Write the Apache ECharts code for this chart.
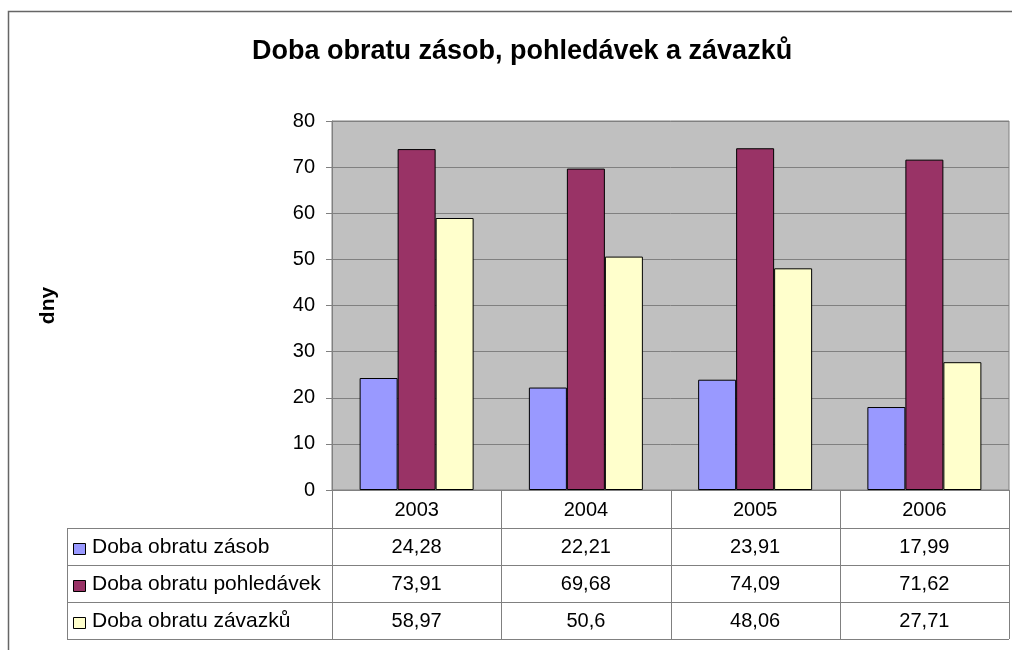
<!DOCTYPE html>
<html>
<head>
<meta charset="utf-8">
<script src="https://cdn.jsdelivr.net/npm/echarts@6/dist/echarts.min.js"></script>
<style>
  html, body { margin: 0; padding: 0; background: #fff; }
  #chart { width: 1012px; height: 650px; }
</style>
</head>
<body>
<div id="chart"></div>
<script>
var years = ['2003', '2004', '2005', '2006'];
var zasoby = [24.28, 22.21, 23.91, 17.99];
var pohledavky = [73.91, 69.68, 74.09, 71.62];
var zavazky = [58.97, 50.6, 48.06, 27.71];
var seriesNames = ['Doba obratu zásob', 'Doba obratu pohledávek', 'Doba obratu závazků'];
var seriesData = [zasoby, pohledavky, zavazky];
var colors = ['#9999FF', '#993366', '#FFFFCC'];
var yTicks = [0, 10, 20, 30, 40, 50, 60, 70, 80];

var FONT = '"Liberation Sans", Arial, sans-serif';
var lineCol = '#808080';

var chart = echarts.init(document.getElementById('chart'), null, { renderer: 'canvas' });

var series = seriesNames.map(function (name, i) {
  return {
    name: name,
    type: 'bar',
    data: seriesData[i],
    barWidth: 38,
    barGap: '0%',
    itemStyle: { color: colors[i], borderColor: '#000', borderWidth: 1 },
    animation: false
  };
});

var option = {
  animation: false,
  backgroundColor: '#fff',
  title: {
    text: 'Doba obratu zásob, pohledávek a závazků',
    left: 247,
    top: 33,
    textStyle: { fontFamily: FONT, fontSize: 27, fontWeight: 'bold', color: '#000' }
  },
  grid: {
    left: 332, right: 3, top: 121, bottom: 160,
    show: true, backgroundColor: '#C0C0C0', borderColor: lineCol, borderWidth: 1
  },
  xAxis: {
    type: 'category',
    data: years,
    axisLine: { lineStyle: { color: lineCol } },
    axisTick: { length: 38, lineStyle: { color: lineCol } },
    axisLabel: { margin: 10, color: '#000', fontFamily: FONT, fontSize: 20 }
  },
  yAxis: {
    type: 'value',
    min: yTicks[0],
    max: yTicks[yTicks.length - 1],
    interval: 10,
    name: 'dny',
    nameLocation: 'middle',
    nameRotate: 90,
    nameGap: 273,
    nameTextStyle: { fontFamily: FONT, fontSize: 21, fontWeight: 'bold', color: '#000' },
    axisLine: { show: true, lineStyle: { color: lineCol } },
    axisTick: { show: true, length: 6, lineStyle: { color: lineCol } },
    axisLabel: { margin: 17, color: '#000', fontFamily: FONT, fontSize: 20 },
    splitLine: { lineStyle: { color: lineCol, width: 1 } }
  },
  series: series
};

chart.setOption(option);

// data table below the plot, aligned to the category axis
function buildTable() {
  var c0 = chart.convertToPixel({ xAxisIndex: 0 }, years[0]);
  var c1 = chart.convertToPixel({ xAxisIndex: 0 }, years[1]);
  var half = (c1 - c0) / 2;
  var plotLeft = c0 - half;
  var plotRight = chart.convertToPixel({ xAxisIndex: 0 }, years[years.length - 1]) + half;
  var axisY = chart.convertToPixel({ yAxisIndex: 0 }, 0);
  var tableLeft = 67;
  var headTop = axisY + 38;
  var rowH = 37;
  var tableBottom = headTop + rowH * seriesNames.length;
  var els = [];
  var ls = { stroke: lineCol, lineWidth: 1 };

  // horizontal lines
  for (var r = 0; r <= seriesNames.length; r++) {
    var y = Math.round(headTop + r * rowH) + 0.5;
    els.push({ type: 'line', shape: { x1: tableLeft, y1: y, x2: plotRight, y2: y }, style: ls, silent: true });
  }
  // vertical lines
  els.push({ type: 'line', shape: { x1: tableLeft + 0.5, y1: headTop, x2: tableLeft + 0.5, y2: tableBottom }, style: ls, silent: true });
  for (var k = 0; k <= years.length; k++) {
    var x = Math.round(plotLeft + k * 2 * half) + 0.5;
    els.push({ type: 'line', shape: { x1: x, y1: axisY, x2: x, y2: tableBottom }, style: ls, silent: true });
  }
  // rows
  seriesNames.forEach(function (name, i) {
    var cy = headTop + i * rowH + rowH / 2 + 1;
    els.push({
      type: 'rect', shape: { x: 73.5, y: Math.round(cy - 5) + 0.5, width: 12, height: 11 },
      style: { fill: colors[i], stroke: '#000', lineWidth: 1 }, silent: true
    });
    els.push({
      type: 'text', x: 92, y: cy,
      style: { text: name, fontFamily: FONT, fontSize: 21, fill: '#000', textVerticalAlign: 'middle', textAlign: 'left' },
      silent: true
    });
    seriesData[i].forEach(function (v, j) {
      var cx = chart.convertToPixel({ xAxisIndex: 0 }, years[j]);
      els.push({
        type: 'text', x: cx, y: cy,
        style: { text: String(v).replace('.', ','), fontFamily: FONT, fontSize: 20, fill: '#000', textAlign: 'center', textVerticalAlign: 'middle' },
        silent: true
      });
    });
  });
  // outer frame
  els.push({ type: 'polyline', shape: { points: [[8.5, 660], [8.5, 11.5], [1020, 11.5]] }, style: { stroke: '#666', lineWidth: 1.5, fill: null }, silent: true });

  chart.setOption({ graphic: els });
}
buildTable();
</script>
</body>
</html>
